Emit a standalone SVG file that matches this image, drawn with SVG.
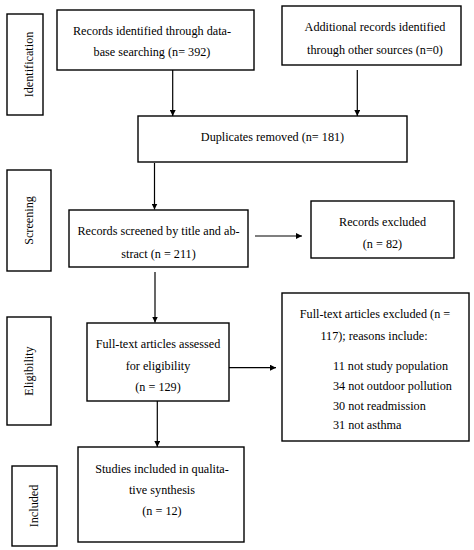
<svg xmlns="http://www.w3.org/2000/svg" width="474" height="550" viewBox="0 0 474 550">
<style>
.box{fill:#fff;stroke:#000;stroke-width:1.4}
text{font-family:"Liberation Serif","Times New Roman",serif;font-size:12.2px;fill:#000;text-anchor:middle}
.lst{text-anchor:start}
.con{stroke:#000;stroke-width:1.2;fill:none;marker-end:url(#ah)}
</style>
<defs>
<marker id="ah" viewBox="0 0 10 10" refX="10" refY="5" markerWidth="6" markerHeight="6" markerUnits="userSpaceOnUse" orient="auto">
<path d="M0,0 L10,5 L0,10 Z" fill="#000"/>
</marker>
</defs>
<rect width="474" height="550" fill="#fff"/>
<g id="stage-identification">
<rect class="box" x="7" y="14" width="36" height="101"/>
<text transform="translate(29,64.5) rotate(-90)" dy="4">Identification</text>
</g>
<g id="stage-screening">
<rect class="box" x="7" y="170" width="44" height="101"/>
<text transform="translate(29,220.5) rotate(-90)" dy="4">Screening</text>
</g>
<g id="stage-eligibility">
<rect class="box" x="7" y="317" width="44" height="108"/>
<text transform="translate(29,371) rotate(-90)" dy="4">Eligibility</text>
</g>
<g id="stage-included">
<rect class="box" x="12" y="466" width="45" height="80"/>
<text transform="translate(34,506) rotate(-90)" dy="4">Included</text>
</g>
<g id="records-identified">
<rect class="box" x="57" y="10" width="197" height="60"/>
<text x="152" y="35">Records identified through data-</text>
<text x="152" y="56">base searching (n= 392)</text>
</g>
<g id="additional-records">
<rect class="box" x="282" y="6" width="179" height="59"/>
<text x="375" y="31">Additional records identified</text>
<text x="375" y="54">through other sources (n=0)</text>
</g>
<g id="duplicates-removed">
<rect class="box" x="138" y="116" width="269" height="46"/>
<text x="272.5" y="141">Duplicates removed (n= 181)</text>
</g>
<g id="records-screened">
<rect class="box" x="69" y="210" width="179" height="57"/>
<text x="158.5" y="235">Records screened by title and ab-</text>
<text x="158.5" y="257.5">stract (n = 211)</text>
</g>
<g id="records-excluded">
<rect class="box" x="311" y="201" width="143" height="57"/>
<text x="382.5" y="226">Records excluded</text>
<text x="382.5" y="247.5">(n = 82)</text>
</g>
<g id="fulltext-assessed">
<rect class="box" x="87" y="323" width="142" height="78"/>
<text x="158" y="347.5">Full-text articles assessed</text>
<text x="158" y="370">for eligibility</text>
<text x="158" y="391">(n = 129)</text>
</g>
<g id="fulltext-excluded">
<rect class="box" x="282" y="293" width="187" height="148"/>
<text x="375" y="318">Full-text articles excluded (n =</text>
<text x="374" y="340">117); reasons include:</text>
<text class="lst" x="333" y="370">11 not study population</text>
<text class="lst" x="333" y="390">34 not outdoor pollution</text>
<text class="lst" x="333" y="409.5">30 not readmission</text>
<text class="lst" x="333" y="429">31 not asthma</text>
</g>
<g id="studies-included">
<rect class="box" x="78" y="447" width="166" height="95"/>
<text x="162" y="472.5">Studies included in qualita-</text>
<text x="162" y="493.5">tive synthesis</text>
<text x="162" y="515">(n = 12)</text>
</g>
<g id="connectors">
<line class="con" x1="172.7" y1="70" x2="172.7" y2="116"/>
<line class="con" x1="357.3" y1="70" x2="357.3" y2="116"/>
<line class="con" x1="154.5" y1="163" x2="154.5" y2="209.5"/>
<line class="con" x1="255" y1="236" x2="302" y2="236"/>
<line class="con" x1="155" y1="272" x2="155" y2="322.5"/>
<line class="con" x1="229" y1="367.7" x2="276" y2="367.7"/>
<line class="con" x1="157.3" y1="401" x2="157.3" y2="447"/>
</g>
</svg>
